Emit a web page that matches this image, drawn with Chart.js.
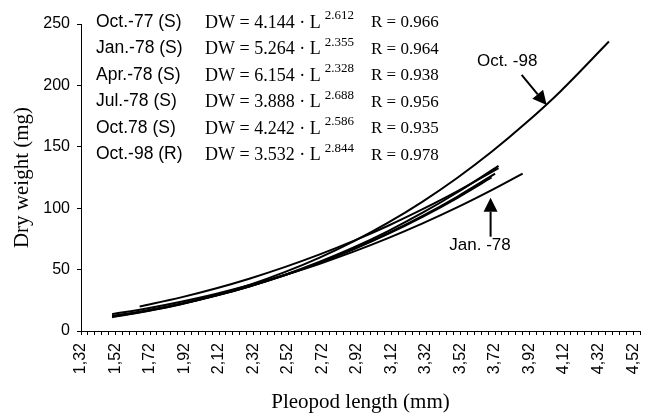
<!DOCTYPE html>
<html>
<head>
<meta charset="utf-8">
<script src="https://cdn.jsdelivr.net/npm/chart.js@4"></script>
<style>
  html, body { margin: 0; padding: 0; background: #fff; }
  #wrap { width: 648px; height: 416px; }
</style>
</head>
<body>
<div id="wrap"><canvas id="chart" width="648" height="416"></canvas></div>
<script>
// regressions printed in the figure (DW = a * L^b)
var groups  = ['Oct.-77 (S)', 'Jan.-78 (S)', 'Apr.-78 (S)', 'Jul.-78 (S)', 'Oct.78 (S)', 'Oct.-98 (R)'];
var coefA   = ['4.144', '5.264', '6.154', '3.888', '4.242', '3.532'];
var expB    = ['2.612', '2.355', '2.328', '2.688', '2.586', '2.844'];
var rValues = ['0.966', '0.964', '0.938', '0.956', '0.935', '0.978'];

// pleopod length (mm) and dry weight (mg)
var lenOct77 = [1.50, 1.70, 1.90, 2.10, 2.30, 2.50, 2.70, 2.90, 3.10, 3.30, 3.50, 3.72];
var dwOct77  = [12.0, 16.6, 22.2, 28.8, 36.5, 45.4, 55.5, 66.9, 79.6, 93.7, 109.3, 128.1];

var lenJan78 = [1.50, 1.70, 1.90, 2.10, 2.30, 2.50, 2.70, 2.90, 3.10, 3.30, 3.50, 3.70, 3.88];
var dwJan78  = [13.7, 18.4, 23.9, 30.2, 37.4, 45.6, 54.6, 64.6, 75.6, 87.6, 100.6, 114.7, 128.2];

var lenApr78 = [1.66, 1.90, 2.10, 2.30, 2.50, 2.70, 2.90, 3.10, 3.30, 3.50, 3.74];
var dwApr78  = [20.0, 27.4, 34.6, 42.8, 52.0, 62.2, 73.4, 85.7, 99.2, 113.7, 132.7];

var lenJul78 = [1.52, 1.70, 1.90, 2.10, 2.30, 2.50, 2.70, 2.90, 3.10, 3.30, 3.50, 3.74];
var dwJul78  = [12.0, 16.2, 21.8, 28.6, 36.5, 45.7, 56.2, 68.0, 81.4, 96.3, 112.8, 134.5];

var lenOct78 = [1.50, 1.70, 1.90, 2.10, 2.30, 2.50, 2.70, 2.90, 3.10, 3.30, 3.50, 3.70];
var dwOct78  = [12.1, 16.7, 22.3, 28.9, 36.6, 45.4, 55.4, 66.6, 79.1, 93.0, 108.3, 125.0];

var lenOct98 = [1.50, 1.70, 1.90, 2.10, 2.30, 2.50, 2.70, 2.90, 3.10, 3.30, 3.50, 3.70, 3.90, 4.10, 4.38];
var dwOct98  = [11.2, 16.0, 21.9, 29.1, 37.7, 47.9, 59.6, 73.0, 88.2, 105.4, 124.6, 145.9, 169.5, 195.3, 235.7];

// axis
var xMin = 1.32, xMax = 4.56, xStep = 0.04;
var xTickLabels = ['1,32', '1,52', '1,72', '1,92', '2,12', '2,32', '2,52', '2,72', '2,92',
                   '3,12', '3,32', '3,52', '3,72', '3,92', '4,12', '4,32', '4,52'];
var yTicks = [0, 50, 100, 150, 200, 250];

function pairs(xs, ys) {
    return xs.map(function (x, i) { return { x: x, y: ys[i] }; });
}

function line(xs, ys) {
    return {
        data: pairs(xs, ys),
        borderColor: '#000',
        borderWidth: 2,
        pointRadius: 0,
        fill: false,
        cubicInterpolationMode: 'monotone'
    };
}

function arrow(ctx, x0, y0, x1, y1) {
    var a = Math.atan2(y1 - y0, x1 - x0);
    var hl = 14, hw = 7;
    var bx = x1 - hl * Math.cos(a), by = y1 - hl * Math.sin(a);
    ctx.beginPath();
    ctx.moveTo(x0, y0);
    ctx.lineTo(bx, by);
    ctx.lineWidth = 2;
    ctx.stroke();
    ctx.beginPath();
    ctx.moveTo(x1, y1);
    ctx.lineTo(bx + hw * Math.sin(a), by - hw * Math.cos(a));
    ctx.lineTo(bx - hw * Math.sin(a), by + hw * Math.cos(a));
    ctx.closePath();
    ctx.fill();
}

var textPlugin = {
    id: 'textPlugin',
    afterDraw: function (chart) {
        var ctx = chart.ctx;
        var xs = chart.scales.x, ys = chart.scales.y;
        var left = chart.chartArea.left, top = chart.chartArea.top;
        ctx.save();
        ctx.fillStyle = '#000';
        ctx.strokeStyle = '#000';
        ctx.textBaseline = 'middle';
        ctx.textAlign = 'left';
        for (var i = 0; i < groups.length; i++) {
            var y = top - 2 + i * 26.5;
            ctx.font = '17.5px "Liberation Sans", Arial, sans-serif';
            ctx.fillText(groups[i], left + 15, y);
            ctx.font = '18px "Liberation Serif", "Times New Roman", serif';
            var eq = 'DW = ' + coefA[i] + ' \u00b7 L';
            ctx.fillText(eq, left + 124, y + 1);
            var w = ctx.measureText(eq).width;
            ctx.font = '17px "Liberation Serif", "Times New Roman", serif';
            ctx.fillText('R = ' + rValues[i], left + 290, y + 1);
            ctx.font = '13px "Liberation Serif", "Times New Roman", serif';
            ctx.fillText(expB[i], left + 124 + w + 4, y - 6);
        }

        // call-outs
        ctx.font = '17px "Liberation Sans", Arial, sans-serif';
        ctx.textAlign = 'center';
        ctx.fillText('Oct. -98', xs.getPixelForValue(3.79), ys.getPixelForValue(220));
        arrow(ctx, xs.getPixelForValue(3.874), ys.getPixelForValue(208.5),
                   xs.getPixelForValue(4.019), ys.getPixelForValue(184));
        ctx.fillText('Jan. -78', xs.getPixelForValue(3.633), ys.getPixelForValue(69.9));
        arrow(ctx, xs.getPixelForValue(3.694), ys.getPixelForValue(76.8),
                   xs.getPixelForValue(3.694), ys.getPixelForValue(108.5));
        ctx.restore();
    }
};

var chart = new Chart(document.getElementById('chart'), {
    type: 'line',
    data: {
        datasets: [
            line(lenOct77, dwOct77),
            line(lenJan78, dwJan78),
            line(lenApr78, dwApr78),
            line(lenJul78, dwJul78),
            line(lenOct78, dwOct78),
            line(lenOct98, dwOct98)
        ]
    },
    options: {
        responsive: false,
        animation: false,
        devicePixelRatio: 1,
        layout: { padding: { left: 0, right: 8, top: 24, bottom: 0 } },
        plugins: { legend: { display: false }, tooltip: { enabled: false } },
        scales: {
            x: {
                type: 'linear',
                min: xMin,
                max: xMax,
                afterBuildTicks: function (scale) {
                    var t = [];
                    for (var v = xMin; v <= xMax + 1e-9; v += xStep) {
                        t.push({ value: Math.round(v * 100) / 100 });
                    }
                    scale.ticks = t;
                },
                afterFit: function (scale) {
                    scale.height = 85;
                    scale.paddingLeft = 0;
                    scale.paddingRight = 0;
                },
                grid: { display: true, drawOnChartArea: false, drawTicks: true, tickLength: 4, color: '#000' },
                border: { display: true, color: '#000', width: 1 },
                ticks: {
                    autoSkip: false,
                    minRotation: 90,
                    maxRotation: 90,
                    padding: 8,
                    color: '#000',
                    font: { family: '"Liberation Sans", Arial, sans-serif', size: 16 },
                    callback: function (value) {
                        var s = Number(value).toFixed(2).replace('.', ',');
                        return xTickLabels.indexOf(s) >= 0 ? s : '';
                    }
                },
                title: {
                    display: true,
                    text: 'Pleopod length (mm)',
                    color: '#000',
                    padding: { top: 4, bottom: 1 },
                    font: { family: '"Liberation Serif", "Times New Roman", serif', size: 21, weight: 'normal' }
                }
            },
            y: {
                type: 'linear',
                min: 0,
                max: 250,
                afterBuildTicks: function (scale) {
                    scale.ticks = yTicks.map(function (v) { return { value: v }; });
                },
                afterFit: function (scale) { scale.width = 81; },
                grid: { display: true, drawOnChartArea: false, drawTicks: true, tickLength: 4, color: '#000' },
                border: { display: true, color: '#000', width: 1 },
                ticks: {
                    padding: 7,
                    color: '#000',
                    font: { family: '"Liberation Sans", Arial, sans-serif', size: 16 }
                },
                title: {
                    display: true,
                    text: 'Dry weight (mg)',
                    color: '#000',
                    padding: { top: 10, bottom: 0 },
                    font: { family: '"Liberation Serif", "Times New Roman", serif', size: 21, weight: 'normal' }
                }
            }
        }
    },
    plugins: [textPlugin]
});
</script>
</body>
</html>
